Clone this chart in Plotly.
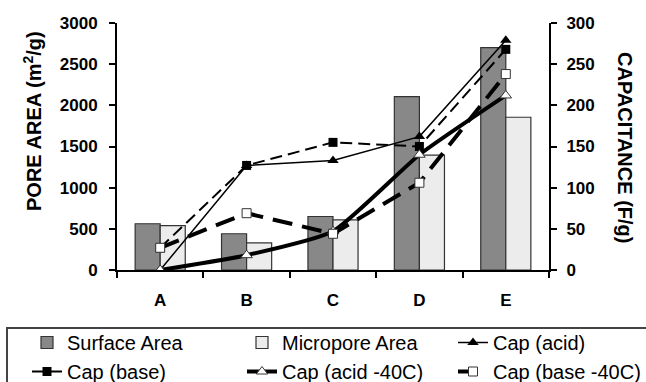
import plotly.graph_objects as go

categories = ["A", "B", "C", "D", "E"]
surface_area = [562, 440, 650, 2105, 2700]
micropore_area = [540, 330, 610, 1395, 1855]
cap_acid = [0, 127, 133, 162, 279]
cap_base = [27, 127, 155, 150, 268]
cap_acid_40 = [0, 18, 47, 140, 212]
cap_base_40 = [27, 69, 44, 106, 238]

FONT = "Liberation Sans, Arial, sans-serif"

# plot area in pixels
PL, PR, PT, PB = 117, 549, 23, 270
PW, PH = PR - PL, PB - PT


def px(x):
    return (x - PL) / PW


def py(y):
    return (PB - y) / PH


fig = go.Figure()
fig.add_trace(go.Bar(x=categories, y=surface_area, name="Surface Area", legend="legend",
                     marker=dict(color="#888888", line=dict(color="#333333", width=1.2))))
fig.add_trace(go.Bar(x=categories, y=micropore_area, name="Micropore Area", legend="legend2",
                     marker=dict(color="#ececec", line=dict(color="#333333", width=1.2))))
fig.add_trace(go.Scatter(x=categories, y=cap_acid, name="Cap (acid)", yaxis="y2", legend="legend3",
                         mode="lines+markers", line=dict(color="black", width=1.5),
                         marker=dict(symbol="triangle-up", size=10, color="black")))
fig.add_trace(go.Scatter(x=categories, y=cap_base, name="Cap (base)", yaxis="y2", legend="legend",
                         mode="lines+markers", line=dict(color="black", width=2, dash="12px,6px"),
                         marker=dict(symbol="square", size=9, color="black")))
fig.add_trace(go.Scatter(x=categories, y=cap_acid_40, name="Cap (acid -40C)", yaxis="y2", legend="legend2",
                         mode="lines+markers", line=dict(color="black", width=4, shape="spline", smoothing=0.5),
                         marker=dict(symbol="triangle-up", size=10, color="white",
                                     line=dict(color="#333333", width=1))))
fig.add_trace(go.Scatter(x=categories, y=cap_base_40, name="Cap (base -40C)", yaxis="y2", legend="legend3",
                         mode="lines+markers", line=dict(color="black", width=4, dash="20px,10px"),
                         marker=dict(symbol="square", size=9, color="white",
                                     line=dict(color="#333333", width=1))))

leg_common = dict(orientation="v", xanchor="left", yanchor="top", y=py(323),
                  bgcolor="rgba(0,0,0,0)", borderwidth=0,
                  font=dict(family=FONT, size=20, color="black"), traceorder="normal")

fig.update_layout(
    width=646, height=382,
    margin=dict(l=PL, r=646 - PR, t=PT, b=382 - PB, autoexpand=False),
    paper_bgcolor="white", plot_bgcolor="white",
    font=dict(family=FONT, color="black"),
    barmode="group", bargap=0.42, bargroupgap=0,
    showlegend=True,
    legend=dict(x=px(27), **leg_common),
    legend2=dict(x=px(242), **leg_common),
    legend3=dict(x=px(453), **leg_common),
    xaxis=dict(type="category", showline=True, linecolor="black", linewidth=2,
               ticks="outside", tickson="boundaries", ticklen=6, tickcolor="black", tickwidth=2,
               tickfont=dict(family=FONT, size=17, color="black", weight="bold"),
               ticklabelstandoff=14, showgrid=False),
    yaxis=dict(range=[0, 3000], dtick=500, showline=True, linecolor="black", linewidth=2,
               ticks="outside", ticklen=6, tickcolor="black", tickwidth=2, showgrid=False,
               zeroline=False, ticklabelstandoff=8,
               tickfont=dict(family=FONT, size=17, color="black", weight="bold")),
    yaxis2=dict(range=[0, 300], dtick=50, overlaying="y", side="right", showline=True,
                linecolor="black", linewidth=2, ticks="outside", ticklen=6, tickcolor="black",
                tickwidth=2, showgrid=False, zeroline=False, ticklabelstandoff=6,
                tickfont=dict(family=FONT, size=17, color="black", weight="bold")),
    shapes=[dict(type="rect", xref="paper", yref="paper",
                 x0=px(7), x1=px(660), y0=py(328), y1=py(400),
                 line=dict(color="#444444", width=2), fillcolor="rgba(0,0,0,0)", layer="below")],
    annotations=[
        dict(text="PORE AREA (m<sup>2</sup>/g)", xref="paper", yref="paper",
             x=px(33), y=py(121),
             xanchor="center", yanchor="middle", textangle=-90, showarrow=False,
             font=dict(family=FONT, size=20, color="black", weight="bold")),
        dict(text="CAPACITANCE (F/g)", xref="paper", yref="paper",
             x=px(625), y=py(147),
             xanchor="center", yanchor="middle", textangle=90, showarrow=False,
             font=dict(family=FONT, size=20, color="black", weight="bold")),
    ],
)

fig.write_html("out.html")
